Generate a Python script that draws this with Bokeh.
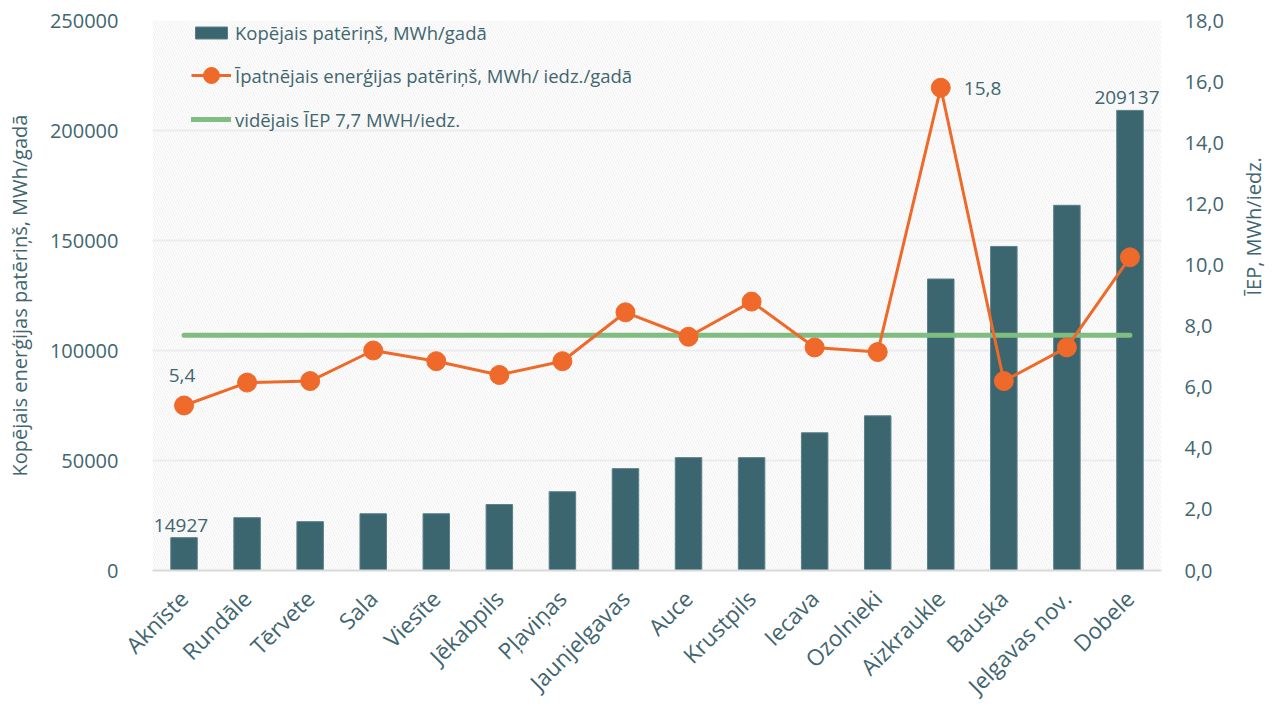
import math
from bokeh.plotting import figure
from bokeh.models import (FactorRange, Range1d, LinearAxis, FixedTicker, CustomJSTickFormatter,
                          BasicTickFormatter, BoxAnnotation, Legend, LegendItem, ColumnDataSource)
from bokeh.core.properties import value
from bokeh.embed import file_html
from bokeh.resources import INLINE

# ---- data ----
municipalities = ["Aknīste", "Rundāle", "Tērvete", "Sala", "Viesīte", "Jēkabpils", "Pļaviņas",
                  "Jaunjelgavas", "Auce", "Krustpils", "Iecava", "Ozolnieki", "Aizkraukle",
                  "Bauska", "Jelgavas nov.", "Dobele"]
total_mwh = [14927, 24000, 22200, 25800, 25800, 30000, 35800, 46300, 51300, 51300,
             62600, 70300, 132500, 147300, 166000, 209137]
iep_mwh = [5.4, 6.15, 6.2, 7.2, 6.85, 6.4, 6.85, 8.45, 7.65, 8.8, 7.3, 7.15, 15.8,
           6.2, 7.3, 10.25]
avg_iep = 7.7
left_ticks = [0, 50000, 100000, 150000, 200000, 250000]
right_ticks = [0, 2, 4, 6, 8, 10, 12, 14, 16, 18]

label_bar_idx = [0, len(municipalities) - 1]
label_pt_idx = [0, iep_mwh.index(max(iep_mwh))]

legend_bar = "Kopējais patēriņš, MWh/gadā"
legend_line = "Īpatnējais enerģijas patēriņš, MWh/ iedz./gadā"
legend_avg = "vidējais ĪEP 7,7 MWH/iedz."
left_title = "Kopējais enerģijas patēriņš, MWh/gadā"
right_title = "ĪEP, MWh/iedz."

# ---- styles ----
FONT = "Open Sans"
TXT = "#41666f"
BAR = "#3b6670"
ORANGE = "#ef6a2a"
GREEN = "#80bd80"

W, H = 1283, 714
p = figure(width=W, height=H, output_backend="svg", toolbar_location=None,
           x_range=FactorRange(*municipalities, range_padding=0),
           y_range=Range1d(0, 250000),
           min_border_left=152, min_border_right=W - 1162, min_border_top=20,
           min_border_bottom=H - 570)
p.extra_y_ranges = {"iep": Range1d(0, 18)}
p.outline_line_color = None
p.background_fill_color = "white"

bg = BoxAnnotation(fill_alpha=0, line_color=None, hatch_pattern="\\", hatch_color="#efefef",
                   hatch_scale=5, hatch_weight=1, level="underlay")
p.add_layout(bg)

p.xgrid.grid_line_color = None
p.ygrid.ticker = FixedTicker(ticks=left_ticks)
p.ygrid.grid_line_color = "#ebebeb"
p.ygrid.grid_line_width = 2

def style_y(ax):
    ax.axis_line_color = None
    ax.major_tick_line_color = None
    ax.minor_tick_line_color = None
    ax.major_tick_out = 0
    ax.major_tick_in = 0
    ax.minor_tick_out = 0
    ax.major_label_text_font = FONT
    ax.major_label_text_font_size = "20px"
    ax.major_label_text_color = TXT
    ax.axis_label_text_font = FONT
    ax.axis_label_text_font_size = "20px"
    ax.axis_label_text_font_style = "normal"
    ax.axis_label_text_color = TXT

# left axis
ya = p.yaxis[0]
ya.ticker = FixedTicker(ticks=left_ticks)
ya.formatter = BasicTickFormatter(use_scientific=False)
style_y(ya)
ya.major_label_standoff = 34
ya.axis_label = left_title
ya.axis_label_standoff = 14

# right axis
ra = LinearAxis(y_range_name="iep", ticker=FixedTicker(ticks=right_ticks),
                formatter=CustomJSTickFormatter(code="return tick.toFixed(1).replace('.', ',');"))
style_y(ra)
ra.major_label_standoff = 23
ra.axis_label = right_title
ra.axis_label_standoff = 27
try:
    ra.axis_label_orientation = math.pi / 2
except Exception:
    pass
p.add_layout(ra, "right")

# bottom axis
xa = p.xaxis[0]
xa.axis_line_color = "#d9d9d9"
xa.axis_line_width = 2
xa.major_tick_line_color = None
xa.minor_tick_line_color = None
xa.major_tick_out = 0
xa.major_tick_in = 0
xa.major_label_orientation = math.pi / 4
xa.major_label_standoff = 24
xa.major_label_text_font = FONT
xa.major_label_text_font_size = "22.5px"
xa.major_label_text_color = TXT

src = ColumnDataSource(dict(x=municipalities, total=total_mwh, iep=iep_mwh,
                            avg=[avg_iep] * len(municipalities)))

bars = p.vbar(x="x", top="total", width=0.42, source=src, fill_color=BAR,
              line_color="#5a8088", line_width=1)
avg_line = p.line(x="x", y="avg", source=src, y_range_name="iep", line_color=GREEN,
                  line_width=5, line_cap="round")
ln = p.line(x="x", y="iep", source=src, y_range_name="iep", line_color=ORANGE, line_width=3)
pts = p.scatter(x="x", y="iep", source=src, y_range_name="iep", size=19,
                fill_color=ORANGE, line_color=ORANGE)

# data labels
bar_lab = ColumnDataSource(dict(x=[municipalities[i] for i in label_bar_idx],
                                y=[total_mwh[i] for i in label_bar_idx],
                                t=[str(total_mwh[i]) for i in label_bar_idx]))
p.text(x="x", y="y", text="t", source=bar_lab, text_align="center", text_baseline="bottom",
       x_offset=-3, y_offset=-6, text_font=value(FONT), text_font_size="19px", text_color=TXT)

pt_lab0 = ColumnDataSource(dict(x=[municipalities[label_pt_idx[0]]], y=[iep_mwh[label_pt_idx[0]]],
                                t=[f"{iep_mwh[label_pt_idx[0]]:.1f}".replace(".", ",")]))
p.text(x="x", y="y", text="t", source=pt_lab0, y_range_name="iep", text_align="center",
       text_baseline="middle", x_offset=-2, y_offset=-30, text_font=value(FONT),
       text_font_size="19px", text_color=TXT)
pt_lab1 = ColumnDataSource(dict(x=[municipalities[label_pt_idx[1]]], y=[iep_mwh[label_pt_idx[1]]],
                                t=[f"{iep_mwh[label_pt_idx[1]]:.1f}".replace(".", ",")]))
p.text(x="x", y="y", text="t", source=pt_lab1, y_range_name="iep", text_align="left",
       text_baseline="middle", x_offset=23, y_offset=1, text_font=value(FONT),
       text_font_size="19px", text_color=TXT)

FRAME_H = 570 - 20

def make_legend(items, glyph_h, spacing):
    lg = Legend(items=items, orientation="vertical")
    lg.background_fill_alpha = 0
    lg.border_line_color = None
    lg.padding = 0
    lg.margin = 0
    lg.spacing = spacing
    lg.glyph_width = 40
    lg.glyph_height = glyph_h
    lg.label_height = 20
    lg.label_standoff = 4
    lg.label_text_font = FONT
    lg.label_text_font_size = "18.5px"
    lg.label_text_color = TXT
    return lg

# legend 1: bar item
lg1 = make_legend([LegendItem(label=legend_bar, renderers=[bars])], 15, 0)
lg1.location = (39, FRAME_H - 1 - 24)
p.add_layout(lg1)
# legend 2: line items
lg2 = make_legend([LegendItem(label=legend_line, renderers=[ln, pts]),
                   LegendItem(label=legend_avg, renderers=[avg_line])], 40, 4)
lg2.location = (39, FRAME_H - 35 - 84)
p.add_layout(lg2)

open("out.html", "w").write(file_html(p, INLINE))
